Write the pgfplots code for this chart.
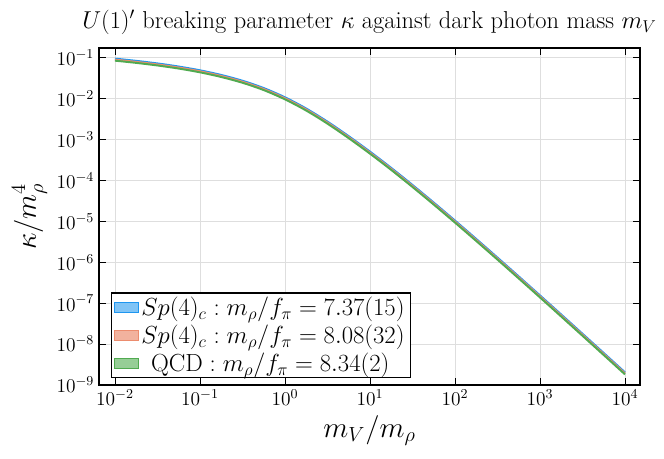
\RequirePackage{fix-cm}
\documentclass[border=0pt]{standalone}
\usepackage{pgfplots}
\pgfplotsset{compat=1.18}
\definecolor{blueedge}{RGB}{30,150,240}
\definecolor{bluefill}{RGB}{128,196,246}
\definecolor{orangeedge}{RGB}{236,140,110}
\definecolor{orangefill}{RGB}{242,178,158}
\definecolor{greenedge}{RGB}{80,170,80}
\definecolor{greenfill}{RGB}{150,206,150}
\begin{document}
\begin{tikzpicture}
\begin{axis}[
  width=389.5pt, height=242.6pt, scale only axis,
  xmode=log, ymode=log,
  xmin=6.49e-3, xmax=1.5e4, ymin=1e-9, ymax=0.169,
  xtick={1e-2,1e-1,1,10,100,1000,10000},
  ytick={1e-9,1e-8,1e-7,1e-6,1e-5,1e-4,1e-3,1e-2,1e-1},
  minor tick style={draw=none},
  grid=major, major grid style={draw=black!13, line width=0.5pt},
  tick align=inside, major tick length=5pt,
  tick style={black, line width=0.5pt},
  axis line style={line width=1.1pt},
  tick label style={font=\fontsize{14}{16}\selectfont},
  title={$U(1)'$ breaking parameter $\kappa$ against dark photon mass $m_V$},
  title style={font=\fontsize{17.6}{20}\selectfont},
  xlabel={$m_V/m_\rho$}, ylabel={$\kappa/m_\rho^4$},
  label style={font=\fontsize{21}{24}\selectfont},
  legend cell align=left,
  legend style={at={(0.0216,0.02)}, anchor=south west, draw=black, line width=1pt,
    font=\fontsize{17.8}{20}\selectfont, fill=white, inner xsep=2pt, inner ysep=1pt,
    row sep=1.2pt},
]
\addplot[blueedge, line width=1.4pt, smooth,
  legend image code/.code={\draw[fill=bluefill, draw=blueedge, line width=0.6pt] (0pt,-3.6pt) rectangle (17pt,3.6pt);}]
coordinates {
(0.01,0.09330) (0.017783,0.08232) (0.031623,0.07120) (0.056234,0.05981) (0.1,0.04841)
(0.17783,0.03724) (0.31623,0.02691) (0.56234,0.01783) (1,0.01059) (1.7783,0.005637)
(3.1623,0.002698) (5.6234,0.001191) (10,4.995e-4) (17.783,2.000e-4) (31.623,7.671e-5)
(56.234,2.851e-5) (100,1.035e-5) (177.83,3.682e-6) (316.23,1.291e-6) (562.34,4.477e-7)
(1000,1.540e-7) (1778.3,5.254e-8) (3162.3,1.783e-8) (5623.4,6.032e-9) (10000,2.035e-9)
};
\addlegendentry{$Sp(4)_c : m_\rho/f_\pi=7.37(15)$}
\addplot[orangeedge, line width=1.4pt, smooth,
  legend image code/.code={\draw[fill=orangefill, draw=orangeedge, line width=0.6pt] (0pt,-3.6pt) rectangle (17pt,3.6pt);}]
coordinates {
(0.01,0.08810) (0.017783,0.07773) (0.031623,0.06723) (0.056234,0.05648) (0.1,0.04571)
(0.17783,0.03517) (0.31623,0.02541) (0.56234,0.01684) (1,0.01000) (1.7783,0.005323)
(3.1623,0.002548) (5.6234,0.001125) (10,4.717e-4) (17.783,1.889e-4) (31.623,7.244e-5)
(56.234,2.692e-5) (100,9.772e-6) (177.83,3.477e-6) (316.23,1.219e-6) (562.34,4.228e-7)
(1000,1.454e-7) (1778.3,4.961e-8) (3162.3,1.684e-8) (5623.4,5.696e-9) (10000,1.922e-9)
};
\addlegendentry{$Sp(4)_c : m_\rho/f_\pi=8.08(32)$}
\addplot[greenedge, line width=1.4pt, smooth,
  legend image code/.code={\draw[fill=greenfill, draw=greenedge, line width=0.6pt] (0pt,-3.6pt) rectangle (17pt,3.6pt);}]
coordinates {
(0.01,0.08317) (0.017783,0.07338) (0.031623,0.06347) (0.056234,0.05332) (0.1,0.04315)
(0.17783,0.03320) (0.31623,0.02399) (0.56234,0.01590) (1,0.00944) (1.7783,0.005025)
(3.1623,0.002405) (5.6234,0.001062) (10,4.453e-4) (17.783,1.783e-4) (31.623,6.838e-5)
(56.234,2.541e-5) (100,9.225e-6) (177.83,3.282e-6) (316.23,1.151e-6) (562.34,3.991e-7)
(1000,1.373e-7) (1778.3,4.683e-8) (3162.3,1.590e-8) (5623.4,5.377e-9) (10000,1.814e-9)
};
\addlegendentry{\hspace{7pt}$\mathrm{QCD} : m_\rho/f_\pi=8.34(2)$}
\end{axis}
\pgfresetboundingbox
\path ([xshift=-71.3pt,yshift=-52.6pt]current axis.south west) rectangle ([xshift=17.3pt,yshift=34.6pt]current axis.north east);
\end{tikzpicture}
\end{document}
